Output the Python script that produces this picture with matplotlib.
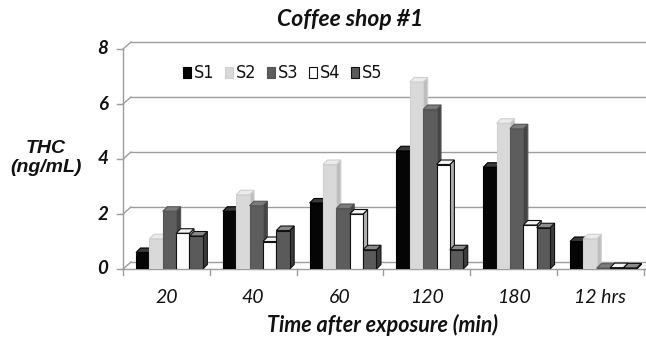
import numpy as np
import matplotlib
matplotlib.use("Agg")
import matplotlib.pyplot as plt
from matplotlib.patches import Polygon, Rectangle

# data
categories = ["20", "40", "60", "120", "180", "12 hrs"]
series = ["S1", "S2", "S3", "S4", "S5"]
s1 = [0.6, 2.1, 2.4, 4.3, 3.7, 1.0]
s2 = [1.1, 2.7, 3.8, 6.8, 5.3, 1.1]
s3 = [2.1, 2.3, 2.2, 5.8, 5.1, 0.03]
s4 = [1.3, 1.0, 2.0, 3.8, 1.6, 0.05]
s5 = [1.2, 1.4, 0.7, 0.7, 1.5, 0.04]
values = [s1, s2, s3, s4, s5]
yticks = [0, 2, 4, 6, 8]

# styles: (front, top, side, edge)
styles = [
    ("#050505", "#3a3a3a", "#000000", "#000000"),
    ("#d9d9d9", "#ececec", "#bdbdbd", "#d0d0d0"),
    ("#5d5d5d", "#7c7c7c", "#444444", "#555555"),
    ("#ffffff", "#f4f4f4", "#b0b0b0", "#111111"),
    ("#5a5a5a", "#8a8a8a", "#3c3c3c", "#111111"),
]

W, H = 646, 340
fig = plt.figure(figsize=(W / 100, H / 100), dpi=100)

px_x = 86.8   # px per category
px_y = 27.5   # px per unit
x0_px, y0_px = 123, 269
ymax = 8.35
xmax = -0.5 + (W - x0_px) / px_x
ax = fig.add_axes([x0_px / W, (H - y0_px) / H, (W - x0_px) / W, ymax * px_y / H])
ax.set_xlim(-0.5, xmax)
ax.set_ylim(0, ymax)
ax.axis("off")

# wall depth and bar depth in data units
wdx, wdy = 8 / px_x, 7 / px_y
bdx, bdy = 4.5 / px_x, 4.5 / px_y
gcol = "#9d9d9d"

# back wall gridlines + connectors + ticks
for v in yticks:
    ax.plot([-0.5 + wdx, xmax], [v + wdy, v + wdy], color=gcol, lw=1.0, clip_on=False, zorder=1)
    ax.plot([-0.5, -0.5 + wdx], [v, v + wdy], color=gcol, lw=1.0, clip_on=False, zorder=1)
    ax.plot([-0.5 - 0.065, -0.5], [v, v], color=gcol, lw=1.0, clip_on=False, zorder=1)
    ax.text(-0.5 - 0.17, v, str(v), ha="right", va="center", fontsize=13.5,
            fontweight="bold", style="italic", family="Lato", color="#111111")

# front axis and floor edge
ax.plot([-0.5, -0.5], [0, 8], color=gcol, lw=1.0, clip_on=False, zorder=1)
ax.plot([-0.5, xmax], [0, 0], color=gcol, lw=1.0, clip_on=False, zorder=1)
for i in range(len(categories) + 1):
    ax.plot([i - 0.5, i - 0.5], [0, -6 / px_y], color=gcol, lw=1.0, clip_on=False, zorder=1)
for i, c in enumerate(categories):
    ax.text(i, -1.05, c, ha="center", va="center", fontsize=14, style="italic",
            family="Lato", color="#111111", clip_on=False)

# bars
bw = 0.154
z = 3
for ci in range(len(categories)):
    for si in range(len(series)):
        h = values[si][ci]
        front, top, side, edge = styles[si]
        x = ci - 0.5 + 0.15 + si * bw
        ax.add_patch(Polygon([(x + bw, 0), (x + bw, h), (x + bw + bdx, h + bdy), (x + bw + bdx, bdy)],
                             closed=True, facecolor=side, edgecolor=edge, lw=0.8, zorder=z))
        ax.add_patch(Polygon([(x, h), (x + bw, h), (x + bw + bdx, h + bdy), (x + bdx, h + bdy)],
                             closed=True, facecolor=top, edgecolor=edge, lw=0.8, zorder=z))
        ax.bar(x, h, width=bw, align="edge", color=front, edgecolor=edge, lw=0.8, zorder=z)
        z += 1

# legend, drawn by hand in figure pixels
for i, name in enumerate(series):
    lx = 183 + i * 42
    fig.patches.append(Rectangle((lx / W, 1 - 78 / H), 8 / W, 11 / H, transform=fig.transFigure,
                                 facecolor=styles[i][0], edgecolor=styles[i][3], lw=0.8))
    fig.text((lx + 11) / W, 1 - 72.5 / H, name, ha="left", va="center", fontsize=13,
             family=["Liberation Sans Narrow", "DejaVu Sans"], fontstretch="condensed", color="#111111")

# titles
fig.text(350 / W, 1 - 20 / H, "Coffee shop #1", ha="center", va="center", fontsize=16.5,
         fontweight="bold", style="italic", family="Lato", color="#111111")
fig.text(383 / W, 1 - 325 / H, "Time after exposure (min)", ha="center", va="center", fontsize=15.5,
         fontweight="bold", style="italic", family="Lato", color="#111111")
fig.text(46 / W, 1 - 158 / H, "THC\n(ng/mL)", ha="center", va="center", fontsize=14,
         fontweight="bold", style="italic", family="Liberation Sans", color="#111111", linespacing=1.15)

fig.savefig("out.png", dpi=100)
